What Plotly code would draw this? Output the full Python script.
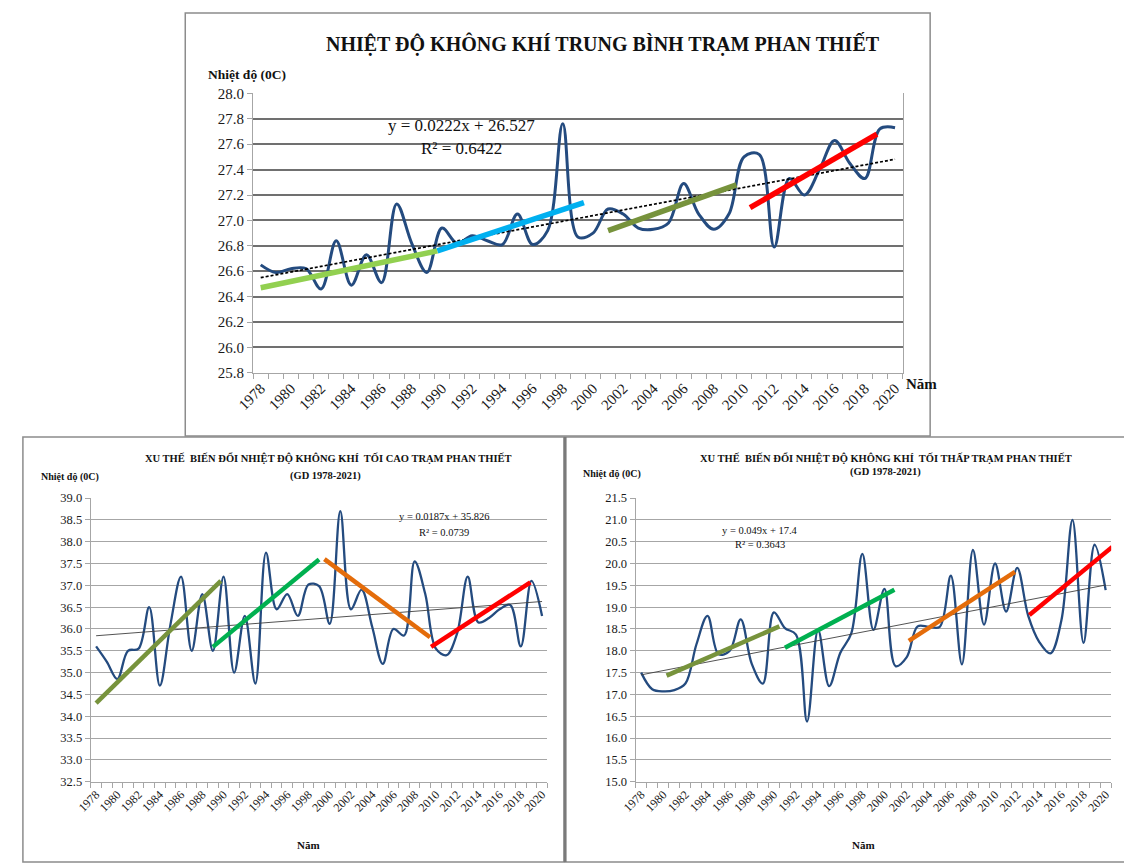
import plotly.graph_objects as go
import numpy as np

W, H = 1124, 865
FONT = "Liberation Serif, Times New Roman, serif"

years = list(range(1978, 2021))

# Top chart: mean air temperature (deg C)
tb_vals = [26.65, 26.59, 26.62, 26.62, 26.46, 26.84, 26.49, 26.73, 26.51, 27.13,
           26.82, 26.59, 26.94, 26.82, 26.88, 26.84, 26.81, 27.05, 26.81, 26.92,
           27.76, 26.87, 26.90, 27.09, 27.05, 26.94, 26.93, 26.98, 27.29, 27.05,
           26.93, 27.05, 27.50, 27.52, 26.79, 27.33, 27.20, 27.40, 27.63, 27.45,
           27.33, 27.72, 27.73]
tb_trend = (0.0222, 26.527)
tb_seg_x = [[1978, 1989.7], [1989.7, 1999.4], [2001.0, 2009.5], [2010.4, 2018.8]]
tb_seg_y = [[26.47, 26.76], [26.76, 27.14], [26.92, 27.28], [27.10, 27.68]]
tb_seg_c = ["#92D050", "#00B0F0", "#77933C", "#FF0000"]

# Bottom-left: maximum air temperature
tc_vals = [35.60, 35.25, 34.85, 35.50, 35.55, 36.50, 34.70, 36.10, 37.20, 35.50,
           36.80, 35.50, 37.20, 35.00, 36.30, 34.75, 37.75, 36.45, 36.80, 36.30,
           37.02, 36.98, 36.12, 38.70, 36.45, 36.90, 36.05, 35.20, 36.00, 35.85,
           37.55, 36.80, 35.55, 35.40, 35.90, 37.20, 36.15, 36.25, 36.45, 36.55,
           35.60, 37.10, 36.30]
tc_trend = (0.0187, 35.826)
tc_seg_x = [[1978, 1989.75], [1989.0, 1999.0], [1999.5, 2009.45], [2009.55, 2018.9]]
tc_seg_y = [[34.30, 37.10], [35.59, 37.59], [37.60, 35.81], [35.59, 37.07]]
tc_seg_c = ["#77933C", "#00B050", "#E46C0A", "#FF0000"]

# Bottom-right: minimum air temperature
tt_vals = [17.50, 17.12, 17.07, 17.10, 17.25, 18.15, 18.80, 17.92, 18.00, 18.72,
           17.70, 17.25, 18.88, 18.52, 18.37, 16.38, 18.48, 17.19, 17.95, 18.40,
           20.22, 18.48, 19.42, 17.65, 17.85, 18.56, 18.55, 18.55, 19.72, 17.69,
           20.31, 18.60, 20.00, 18.90, 19.90, 18.80, 18.20, 17.94, 18.70, 21.00,
           18.18, 20.43, 19.39]
tt_trend = (0.049, 17.4)
tt_seg_x = [[1980.3, 1990.5], [1991.0, 2000.9], [2002.2, 2011.8], [2013.1, 2020.6]]
tt_seg_y = [[17.43, 18.56], [18.07, 19.40], [18.23, 19.81], [18.82, 20.38]]
tt_seg_c = ["#77933C", "#00B050", "#E46C0A", "#FF0000"]

year_ticks = list(range(1978, 2021, 2))
year_labels = [str(y) for y in year_ticks]

LINE_BLUE = "#244B7F"


def px(x):
    return x / W


def py(y):
    return 1 - y / H


fig = go.Figure()

charts = [
    dict(vals=tb_vals, trend=tb_trend, sx=tb_seg_x, sy=tb_seg_y, sc=tb_seg_c,
         xa="x", ya="y", lw=3, segw=5.5, tdash="3px,2px", tcol="#000000", tw=1.7),
    dict(vals=tc_vals, trend=tc_trend, sx=tc_seg_x, sy=tc_seg_y, sc=tc_seg_c,
         xa="x2", ya="y2", lw=2.3, segw=4.5, tdash="solid", tcol="#404040", tw=0.9),
    dict(vals=tt_vals, trend=tt_trend, sx=tt_seg_x, sy=tt_seg_y, sc=tt_seg_c,
         xa="x3", ya="y3", lw=2.3, segw=4.5, tdash="solid", tcol="#404040", tw=0.9),
]

for c in charts:
    fig.add_trace(go.Scatter(x=years, y=c["vals"], mode="lines",
                             line=dict(color=LINE_BLUE, width=c["lw"], shape="spline", smoothing=1.0),
                             xaxis=c["xa"], yaxis=c["ya"], showlegend=False, hoverinfo="skip"))
    idx = np.array([years[0], years[-1]])
    k, b = c["trend"]
    ty = k * (idx - 1977) + b
    fig.add_trace(go.Scatter(x=idx, y=ty, mode="lines",
                             line=dict(color=c["tcol"], width=c["tw"], dash=c["tdash"]),
                             xaxis=c["xa"], yaxis=c["ya"], showlegend=False, hoverinfo="skip"))
    for sx, sy, col in zip(c["sx"], c["sy"], c["sc"]):
        fig.add_trace(go.Scatter(x=sx, y=sy, mode="lines",
                                 line=dict(color=col, width=c["segw"]),
                                 xaxis=c["xa"], yaxis=c["ya"], showlegend=False, hoverinfo="skip"))


def xaxis_cfg(dom, size, col):
    return dict(domain=dom, range=[1977.5, 2020.5], tickmode="array", tickvals=year_ticks,
                ticktext=year_labels, tickangle=-45, ticks="", showgrid=False, zeroline=False,
                showline=True, linecolor=col, linewidth=1.2,
                tickfont=dict(family=FONT, size=size, color="#1a1a1a"),
                minor=dict(ticks="outside", ticklen=5, tick0=1977.5, dtick=1,
                           tickcolor=col, tickwidth=1, showgrid=False))


def yaxis_cfg(dom, rng, dtick, size, gridcol, gridw, col, fmt, anchor, mirror=False):
    return dict(domain=dom, range=rng, dtick=dtick, tick0=rng[0], tickformat=fmt,
                showgrid=True, gridcolor=gridcol, gridwidth=gridw, zeroline=False,
                showline=True, linecolor=col, linewidth=1.2, mirror=mirror,
                ticks="outside", ticklen=5, tickcolor=col,
                tickfont=dict(family=FONT, size=size, color="#1a1a1a"), anchor=anchor)


fig.update_layout(
    width=W, height=H, margin=dict(l=0, r=0, t=0, b=0),
    paper_bgcolor="white", plot_bgcolor="white",
    xaxis=xaxis_cfg([px(240), px(900)], 15, "#A6A6A6") | dict(anchor="y"),
    yaxis=yaxis_cfg([py(371.7), py(87)], [25.8, 28.0], 0.2, 15, "#707070", 2.4, "#A6A6A6", ".1f", "x", mirror=True),
    xaxis2=xaxis_cfg([px(75), px(539)], 12, "#A6A6A6") | dict(anchor="y2"),
    yaxis2=yaxis_cfg([py(788.3), py(499.3)], [32.5, 39.0], 0.5, 12.5, "#A6A6A6", 1.4, "#A6A6A6", ".1f", "x2"),
    xaxis3=xaxis_cfg([px(628.7), px(1112)], 12, "#A6A6A6") | dict(anchor="y3"),
    yaxis3=yaxis_cfg([py(788.3), py(499.3)], [15.0, 21.5], 0.5, 12.5, "#A6A6A6", 1.4, "#A6A6A6", ".1f", "x3"),
)

shapes = [
    dict(type="rect", xref="paper", yref="paper", x0=px(171), x1=px(928), y0=py(436), y1=py(5),
         line=dict(color="#8C8C8C", width=1.5)),
    dict(type="rect", xref="paper", yref="paper", x0=px(6), x1=px(556), y0=py(870), y1=py(437),
         line=dict(color="#8C8C8C", width=1.5)),
    dict(type="rect", xref="paper", yref="paper", x0=px(557), x1=px(1135), y0=py(870), y1=py(437),
         line=dict(color="#8C8C8C", width=1.5)),
    dict(type="line", xref="paper", yref="paper", x0=px(557), x1=px(557), y0=py(870), y1=py(437),
         line=dict(color="#7A7A7A", width=3)),
]
fig.update_layout(shapes=shapes)


def ann(text, x, y, size, bold=False, xanchor="center"):
    t = f"<b>{text}</b>" if bold else text
    fig.add_annotation(text=t, x=px(x), y=py(y), xref="paper", yref="paper",
                       xanchor=xanchor, yanchor="middle", showarrow=False,
                       font=dict(family=FONT, size=size, color="#111111"))


# Top chart texts
ann("NHIỆT ĐỘ KHÔNG KHÍ TRUNG BÌNH TRẠM PHAN THIẾT", 596, 37, 20, bold=True)
ann("Nhiệt độ (0C)", 192, 68, 13.5, bold=True, xanchor="left")
ann("y = 0.0222x + 26.527", 452, 120, 17)
ann("R² = 0.6422", 452, 143, 17)
ann("Năm", 901, 383, 15, bold=True, xanchor="left")

# Bottom-left texts
ann("XU THẾ  BIẾN ĐỔI NHIỆT ĐỘ KHÔNG KHÍ  TỐI CAO TRẠM PHAN THIẾT", 317, 458, 10.5, bold=True)
ann("(GD 1978-2021)", 314, 477, 10.5, bold=True)
ann("Nhiệt độ (0C)", 22, 478, 10, bold=True, xanchor="left")
ann("y = 0.0187x + 35.826", 434, 518, 10.5)
ann("R² = 0.0739", 434, 534, 10.5)
ann("Năm", 296, 853, 11, bold=True)

# Bottom-right texts
ann("XU THẾ  BIẾN ĐỔI NHIỆT ĐỘ KHÔNG KHÍ  TỐI THẤP TRẠM PHAN THIẾT", 883, 458, 10.5, bold=True)
ann("(GD 1978-2021)", 883, 473, 10.5, bold=True)
ann("Nhiệt độ (0C)", 573, 475, 10, bold=True, xanchor="left")
ann("y = 0.049x + 17.4", 755, 532, 10.5)
ann("R² = 0.3643", 755, 547, 10.5)
ann("Năm", 860, 853, 11, bold=True)

fig.write_html("out.html", config={"displayModeBar": False},
               post_script="document.body.style.margin='0px';document.body.style.overflow='hidden';")
